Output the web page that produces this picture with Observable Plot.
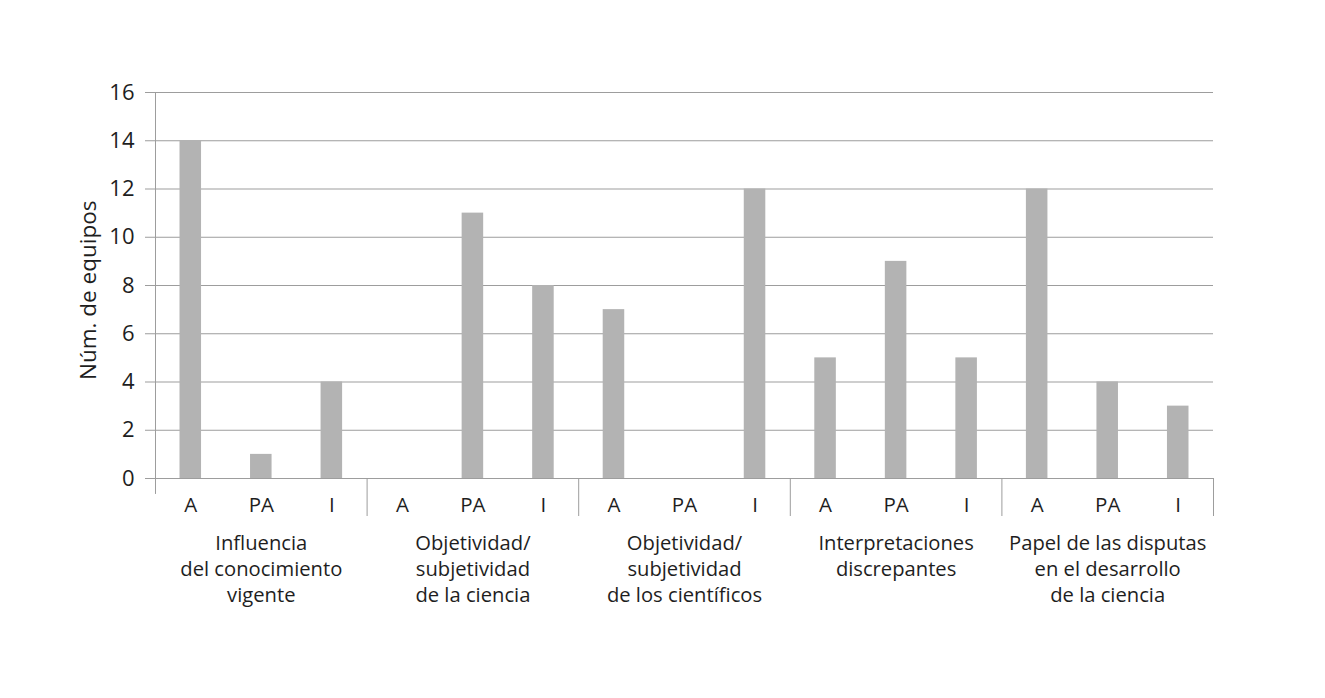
<!DOCTYPE html>
<html>
<head>
<meta charset="utf-8">
<script src="https://cdn.jsdelivr.net/npm/d3@7"></script>
<script src="https://cdn.jsdelivr.net/npm/@observablehq/plot@0.6"></script>
<style>
  html, body { margin: 0; padding: 0; background: #fff; }
  #chart { width: 1325px; height: 698px; }
</style>
</head>
<body>
<div id="chart"></div>
<script>
// ---- data ----
const groups = [
  "Influencia\ndel conocimiento\nvigente",
  "Objetividad/\nsubjetividad\nde la ciencia",
  "Objetividad/\nsubjetividad\nde los científicos",
  "Interpretaciones\ndiscrepantes",
  "Papel de las disputas\nen el desarrollo\nde la ciencia"
];
const categories = ["A", "PA", "I"];
const valuesA  = [14, 0, 7, 5, 12];
const valuesPA = [1, 11, 0, 9, 4];
const valuesI  = [4, 8, 12, 5, 3];
const yTicks = [0, 2, 4, 6, 8, 10, 12, 14, 16];
const yLabel = "Núm. de equipos";

// ---- build table ----
const series = [valuesA, valuesPA, valuesI];
const rows = [];
groups.forEach((g, gi) => {
  categories.forEach((c, ci) => {
    rows.push({group: g, gi, cat: c, i: gi * 3 + ci, value: series[ci][gi]});
  });
});
const nSlots = groups.length * categories.length;
const bounds = d3.range(1, groups.length + 1).map(k => k * categories.length);
const groupRows = groups.map((g, gi) => ({label: g, mid: gi * categories.length + categories.length / 2}));

const lineColor = "#9d9d9d";
const textColor = "#1e1e1e";

const chart = Plot.plot({
  width: 1325,
  height: 698,
  marginLeft: 155,
  marginRight: 112,
  marginTop: 92,
  marginBottom: 182,
  style: {fontFamily: "'Open Sans', sans-serif", fontSize: "20px", color: textColor, background: "#fff"},
  x: {domain: [0, nSlots], axis: null},
  y: {domain: [-1.575, 16], axis: null},
  marks: [
    Plot.ruleY(yTicks, {stroke: lineColor, strokeWidth: 1}),
    Plot.axisY(yTicks, {tickSize: 10, tickPadding: 11, fontSize: 22, stroke: lineColor, fill: textColor, label: null}),
    Plot.ruleX([0], {y1: -0.66, y2: 16, stroke: lineColor}),
    Plot.ruleX(bounds, {y1: -1.575, y2: 0, stroke: lineColor}),
    Plot.rectY(rows, {x1: "i", x2: d => d.i + 1, y: "value", insetLeft: 24.5, insetRight: 24.5, fill: "#b3b3b3"}),
    Plot.text(rows, {x: d => d.i + 0.5, y: 0, dy: 27, text: "cat", fontSize: 20.5, fill: textColor}),
    Plot.text(groupRows, {x: "mid", y: 0, dy: 53, text: "label", lineAnchor: "top", lineHeight: 1.28, fontSize: 20.2, fill: textColor}),
    Plot.text([yLabel], {y: 7.8, frameAnchor: "left", dx: -67, rotate: -90, textAnchor: "middle", fontSize: 22.5, fill: textColor})
  ]
});
document.getElementById("chart").appendChild(chart);
</script>
</body>
</html>
